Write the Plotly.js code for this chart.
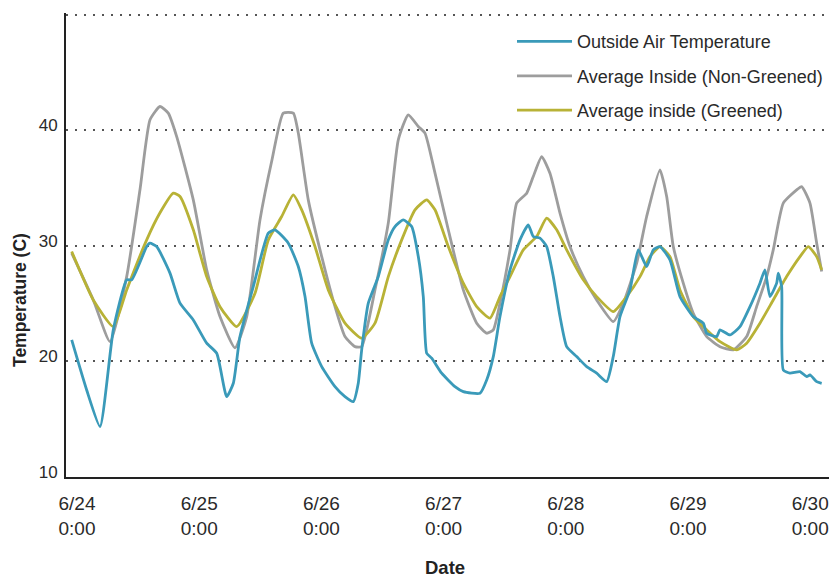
<!DOCTYPE html>
<html>
<head>
<meta charset="utf-8">
<script src="https://cdn.plot.ly/plotly-3.0.1.min.js"></script>
<style>html,body{margin:0;padding:0;background:#fff;}#chart{width:829px;height:578px;}</style>
</head>
<body>
<div id="chart"></div>
<script>
// Hours since 6/24 0:00
const outsideHours = [-1.04,1.90,4.52,7.13,9.76,10.74,13.69,14.34,15.65,18.26,20.23,22.84,25.47,27.44,29.40,30.70,32.01,34.62,37.57,38.88,41.50,43.46,44.78,46.09,48.06,50.67,52.63,54.26,55.24,55.91,57.21,59.17,61.14,62.45,64.08,65.73,67.03,68.01,68.68,69.66,71.62,74.23,75.87,79.14,80.46,81.76,83.07,85.04,87.0,88.63,89.61,90.93,92.24,93.54,94.86,96.17,98.13,100.10,102.06,104.03,105.32,106.64,108.60,110.23,111.88,113.18,114.49,116.46,118.42,121.03,123.0,123.67,125.63,126.28,128.24,130.20,132.17,134.13,135.11,136.09,137.41,137.73,138.39,138.71,140.02,141.99,143.31,143.95,145.27,146.25];
const outsideTemp = [21.86,17.53,14.36,22.73,27.06,27.06,29.94,30.23,29.94,27.64,25.04,23.59,21.58,20.71,16.95,18.11,22.15,26.48,31.10,31.39,30.23,28.21,25.61,21.58,19.55,17.82,16.95,16.52,18.11,21.0,25.04,27.34,30.52,31.67,32.25,31.67,29.07,25.61,20.71,20.28,18.98,17.82,17.39,17.25,18.40,20.42,23.88,27.92,30.52,31.82,30.81,30.67,29.94,27.34,23.88,21.28,20.42,19.55,18.98,18.25,20.42,23.88,26.19,29.65,28.21,29.65,29.94,28.79,25.61,23.88,23.31,22.44,22.15,22.73,22.29,23.01,24.74,26.77,27.92,25.61,26.77,27.64,26.48,19.26,18.98,19.12,18.68,18.83,18.25,18.11];

const nonGreenedHours = [-1.04,3.2,6.48,9.76,12.37,14.34,16.30,17.93,19.58,22.84,25.47,28.08,31.03,33.33,35.94,38.30,40.51,42.48,43.46,45.42,48.06,50.67,52.63,54.60,55.91,58.52,61.14,63.10,65.06,67.03,68.34,70.31,72.92,75.87,78.50,80.46,81.76,83.07,85.04,86.35,88.32,89.61,91.26,92.89,94.86,96.82,99.43,102.06,105.32,107.29,109.92,111.88,114.49,115.81,117.11,119.07,121.03,123.67,126.28,128.89,131.52,133.48,135.45,136.74,138.71,141.34,142.32,143.95,145.27,146.25];
const nonGreenedTemp = [29.37,25.32,21.71,27.34,34.85,40.91,42.06,41.49,39.46,33.98,27.92,23.88,21.17,23.88,32.25,37.45,41.49,41.49,39.76,33.98,29.07,24.74,22.15,21.28,21.28,26.19,31.99,39.18,41.34,40.33,39.76,36.29,31.39,26.19,23.31,22.44,22.73,25.04,29.65,33.70,34.56,36.0,37.73,36.29,32.83,29.94,27.34,25.32,23.45,25.04,28.50,32.54,36.58,34.27,29.94,26.77,24.17,22.15,21.28,21.0,22.15,24.74,27.34,29.65,33.70,34.85,35.13,33.70,30.23,27.78];

const greenedHours = [-1.04,3.2,7.13,9.76,13.69,16.30,18.91,20.23,22.84,25.47,28.08,31.36,34.96,37.57,40.20,42.48,44.13,46.74,49.35,52.63,55.91,58.52,61.14,63.77,66.38,68.68,70.31,72.92,75.87,78.50,81.11,83.07,85.04,87.65,90.28,92.24,94.21,96.17,99.43,102.06,105.32,107.95,110.57,112.53,114.49,116.46,118.42,121.03,123.67,126.28,129.56,131.52,134.13,136.74,139.37,141.99,143.62,145.27,146.25];
const greenedTemp = [29.51,25.32,23.01,26.19,30.52,32.86,34.56,34.27,31.39,27.34,24.74,23.01,25.90,30.52,32.54,34.42,33.12,29.94,26.19,23.31,22.01,23.31,27.34,30.52,33.12,33.98,33.12,29.94,26.77,24.74,23.74,25.61,27.34,29.65,30.81,32.40,31.39,29.65,27.06,25.61,24.31,25.61,27.34,29.07,29.94,29.07,26.19,23.88,22.73,21.71,21.0,21.58,23.31,25.32,27.34,29.07,29.94,29.07,27.92];

const tickHours = [0,24,48,72,96,120,144];
const tickDates = ['6/24','6/25','6/26','6/27','6/28','6/29','6/30'];
const tickTimes = ['0:00','0:00','0:00','0:00','0:00','0:00','0:00'];
const yTicks = [10,20,30,40,50];
const yTickLabels = ['10','20','30','40',''];
const seriesNames = ['Outside Air Temperature','Average Inside (Non-Greened)','Average inside (Greened)'];

const FONT = '"Liberation Sans", Arial, sans-serif';

const traces = [
  {x: nonGreenedHours, y: nonGreenedTemp, name: seriesNames[1], legendrank: 2, legendgroup:'b',
   type:'scatter', mode:'lines', line:{color:'#9d9d9d', width:2.8, shape:'spline', smoothing:0.5}},
  {x: greenedHours, y: greenedTemp, name: seriesNames[2], legendrank: 3, legendgroup:'c',
   type:'scatter', mode:'lines', line:{color:'#b8b236', width:2.8, shape:'spline', smoothing:0.5}},
  {x: outsideHours, y: outsideTemp, name: seriesNames[0], legendrank: 1, legendgroup:'a',
   type:'scatter', mode:'lines', line:{color:'#3a9ab9', width:2.8, shape:'spline', smoothing:0.5}}
];

const layout = {
  width: 829, height: 578,
  margin: {l:66, r:0, t:13, b:101, pad:0},
  paper_bgcolor:'#ffffff', plot_bgcolor:'#ffffff',
  showlegend: true,
  legend: {x:(512-66)/763, y:0.978, xanchor:'left', yanchor:'top', bgcolor:'rgba(0,0,0,0)',
           font:{family:FONT, size:18, color:'#2a2a2a'}, itemwidth:55, tracegroupgap:8},
  xaxis: {range:[-2.16,147.69], tickmode:'array', tickvals:tickHours,
          ticktext: tickDates.map((d,i)=>d+'<br>'+tickTimes[i]),
          showgrid:false, zeroline:false, showline:true, linecolor:'#222', linewidth:2,
          ticks:'', tickfont:{family:FONT, size:19, color:'#2a2a2a'}, ticklabelstandoff:8},
  yaxis: {range:[10,50.15], tickmode:'array', tickvals:yTicks, ticktext:yTickLabels,
          showgrid:true, gridcolor:'#555', gridwidth:2, griddash:'2px,7px',
          zeroline:false, showline:true, linecolor:'#222', linewidth:2,
          ticks:'', tickfont:{family:FONT, size:17, color:'#2a2a2a'}, ticklabelstandoff:3, ticklabelshift:-5},
  annotations: [
    {text:'<b>Temperature (C)</b>', xref:'paper', yref:'paper', x:(20-66)/763, y:(477-300)/464,
     xanchor:'center', yanchor:'middle', textangle:-90, showarrow:false,
     font:{family:FONT, size:17.5, color:'#222'}},
    {text:'<b>Date</b>', xref:'paper', yref:'paper', x:(445-66)/763, y:(477-567)/464,
     xanchor:'center', yanchor:'middle', showarrow:false,
     font:{family:FONT, size:18.5, color:'#222'}}
  ]
};

Plotly.newPlot('chart', traces, layout, {staticPlot:true, displayModeBar:false});
</script>
</body>
</html>
